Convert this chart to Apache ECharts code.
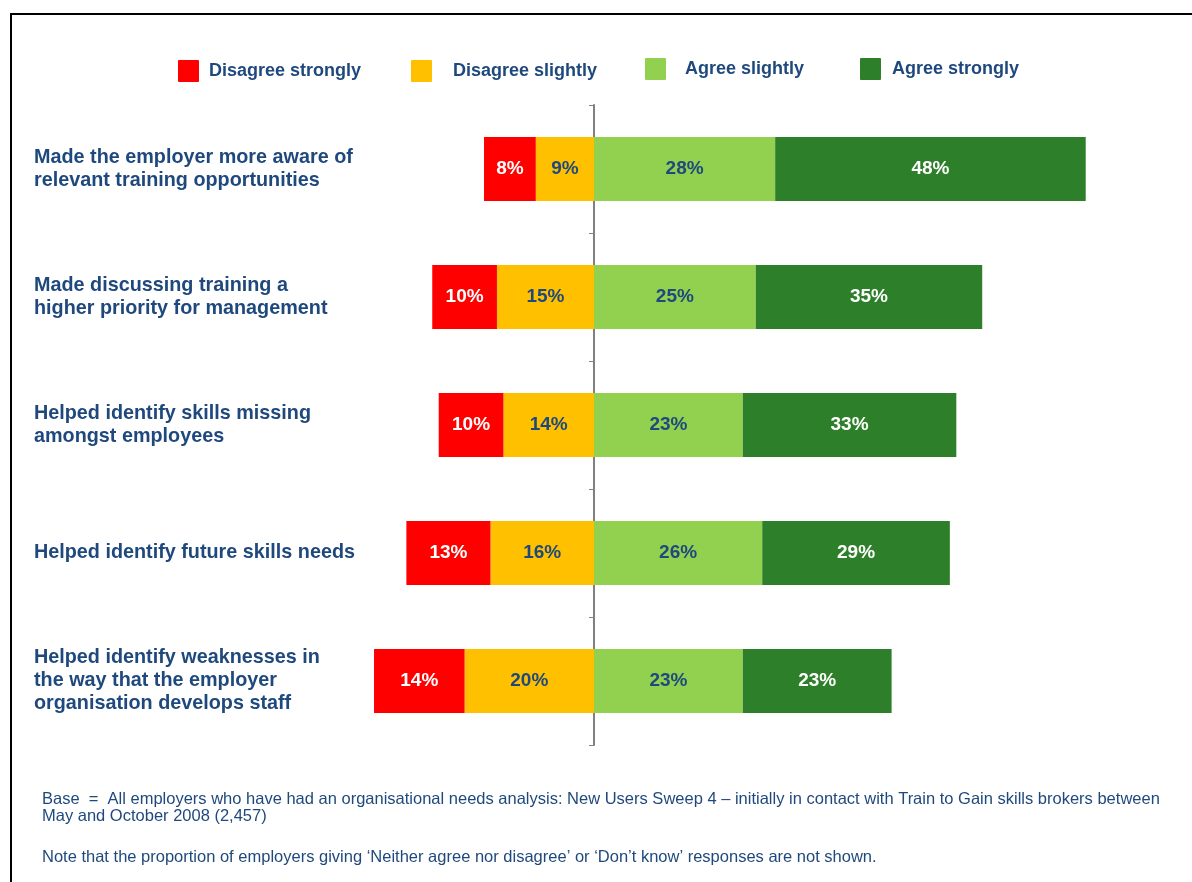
<!DOCTYPE html>
<html>
<head>
<meta charset="utf-8">
<script src="https://cdn.jsdelivr.net/npm/echarts@6/dist/echarts.min.js"></script>
<style>
  html, body { margin: 0; padding: 0; background: #fff; }
  #chart { width: 1192px; height: 882px; }
</style>
</head>
<body>
<div id="chart"></div>
<script>
// statements, top to bottom
var categories = [
    'Made the employer more aware of\nrelevant training opportunities',
    'Made discussing training a\nhigher priority for management',
    'Helped identify skills missing\namongst employees',
    'Helped identify future skills needs',
    'Helped identify weaknesses in\nthe way that the employer\norganisation develops staff'
];

// percentages per answer
var disagreeStrongly = [8, 10, 10, 13, 14];
var disagreeSlightly = [9, 15, 14, 16, 20];
var agreeSlightly = [28, 25, 23, 26, 23];
var agreeStrongly = [48, 35, 33, 29, 23];

var footnote1 = 'Base  =  All employers who have had an organisational needs analysis: New Users Sweep 4 \u2013 initially in contact with Train to Gain skills brokers between\nMay and October 2008 (2,457)';
var footnote2 = 'Note that the proportion of employers giving \u2018Neither agree nor disagree\u2019 or \u2018Don\u2019t know\u2019 responses are not shown.';

var FONT = '"Liberation Sans", Arial, sans-serif';
var BLUE = '#1F497D';
var colors = {
    'Disagree strongly': '#FF0000',
    'Disagree slightly': '#FFC000',
    'Agree slightly': '#92D050',
    'Agree strongly': '#2E7F2A'
};

// value axis: -40..80 over the plot, zero lands at x=594
var X_MIN = -40, X_MAX = 80;
var PLOT_LEFT = 335.2, PLOT_RIGHT = 80.4;
var zeroX = PLOT_LEFT + (0 - X_MIN) / (X_MAX - X_MIN) * (1192 - PLOT_LEFT - PLOT_RIGHT);

function negate(arr) {
    return arr.map(function (v) { return -v; });
}

function barSeries(name, data, labelColor) {
    return {
        name: name,
        type: 'bar',
        stack: 'total',
        barWidth: 64,
        xAxisIndex: 0,
        yAxisIndex: 0,
        data: data,
        itemStyle: { color: colors[name] },
        label: {
            show: true,
            position: 'inside',
            color: labelColor,
            fontFamily: FONT,
            fontWeight: 'bold',
            fontSize: 19,
            formatter: function (p) { return Math.abs(p.value) + '%'; }
        }
    };
}

// one legend per item so the spacing can follow the original
function legendItem(name, left, gap, top) {
    return {
        data: [name],
        left: left,
        top: top,
        padding: 0,
        itemWidth: 21,
        itemHeight: 22,
        icon: 'path://M1,0 L20,0 Q21,0 21,1 L21,21 Q21,22 20,22 L1,22 Q0,22 0,21 L0,1 Q0,0 1,0 Z',
        selectedMode: false,
        textStyle: {
            color: BLUE,
            fontFamily: FONT,
            fontWeight: 'bold',
            fontSize: 18,
            padding: [0, 0, 0, gap]
        }
    };
}

var chart = echarts.init(document.getElementById('chart'));

chart.setOption({
    backgroundColor: '#fff',
    animation: false,
    legend: [
        legendItem('Disagree strongly', 178, 5, 60),
        legendItem('Disagree slightly', 411, 16, 60),
        legendItem('Agree slightly', 645, 14, 58),
        legendItem('Agree strongly', 860, 6, 58)
    ],
    grid: [
        { left: PLOT_LEFT, right: PLOT_RIGHT, top: 105, bottom: 137 },
        // second grid only carries the centre line at zero
        { left: zeroX, right: PLOT_RIGHT, top: 105, bottom: 137 }
    ],
    xAxis: [
        { type: 'value', gridIndex: 0, min: X_MIN, max: X_MAX, show: false },
        { type: 'value', gridIndex: 1, min: 0, max: X_MAX, show: false }
    ],
    yAxis: [
        {
            type: 'category',
            gridIndex: 0,
            inverse: true,
            data: categories,
            position: 'left',
            axisLine: { show: false },
            axisTick: { show: false },
            axisLabel: {
                align: 'left',
                margin: PLOT_LEFT - 34,
                color: BLUE,
                fontFamily: FONT,
                fontWeight: 'bold',
                fontSize: 19.8,
                lineHeight: 23
            }
        },
        {
            type: 'category',
            gridIndex: 1,
            inverse: true,
            data: categories,
            position: 'left',
            axisLine: { show: true, onZero: false, lineStyle: { color: '#808080', width: 2 } },
            axisTick: { show: true, length: 5, lineStyle: { color: '#808080', width: 1 } },
            axisLabel: { show: false }
        }
    ],
    series: [
        barSeries('Disagree slightly', negate(disagreeSlightly), BLUE),
        barSeries('Disagree strongly', negate(disagreeStrongly), '#fff'),
        barSeries('Agree slightly', agreeSlightly, BLUE),
        barSeries('Agree strongly', agreeStrongly, '#fff')
    ],
    graphic: [
        {
            type: 'polyline',
            shape: { points: [[11, 882], [11, 14], [1192, 14]] },
            style: { stroke: '#000', lineWidth: 2, fill: null }
        },
        {
            type: 'text',
            left: 42,
            top: 791,
            style: {
                text: footnote1,
                fill: BLUE,
                font: '16.5px ' + FONT,
                lineHeight: 17
            }
        },
        {
            type: 'text',
            left: 42,
            top: 849,
            style: {
                text: footnote2,
                fill: BLUE,
                font: '16.5px ' + FONT
            }
        }
    ]
});
</script>
</body>
</html>
